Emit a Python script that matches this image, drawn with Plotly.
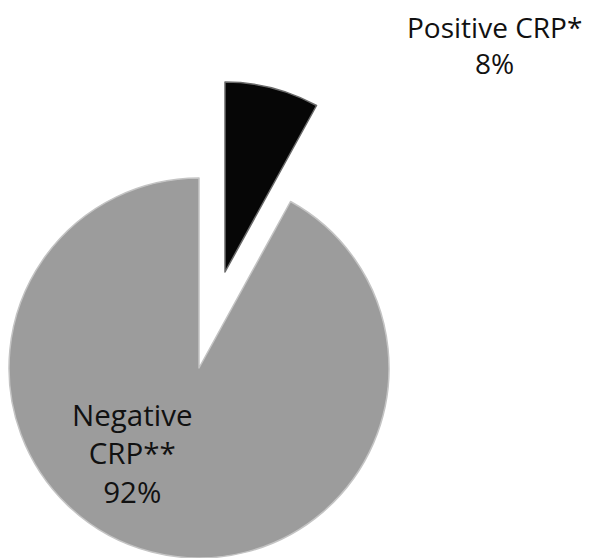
import plotly.graph_objects as go

categories = ["Positive CRP*", "Negative CRP**"]
values = [8, 92]
label_lines = [["Positive CRP*", "8%"], ["Negative", "CRP**", "92%"]]

W, H = 591, 558

def dom(cx, cy, r):
    return dict(x=[(cx - r) / W, (cx + r) / W],
                y=[max(0, (H - cy - r) / H), min(1, (H - cy + r) / H)])

fig = go.Figure()
# Negative slice (main body)
fig.add_trace(go.Pie(
    labels=categories, values=values, sort=False, direction="clockwise",
    marker=dict(colors=["rgba(0,0,0,0)", "#9c9c9c"],
                line=dict(color=["rgba(0,0,0,0)", "#c4c4c4"], width=[0, 1.5])),
    textinfo="none", hoverinfo="label+percent", showlegend=False,
    domain=dom(199, 368, 190)))
# Positive slice (exploded)
fig.add_trace(go.Pie(
    labels=categories, values=values, sort=False, direction="clockwise",
    marker=dict(colors=["#060606", "rgba(0,0,0,0)"],
                line=dict(color=["#6a6a6a", "rgba(0,0,0,0)"], width=[1.5, 0])),
    textinfo="none", hoverinfo="label+percent", showlegend=False,
    domain=dom(225, 272, 190)))

fig.add_annotation(text="<br>".join(label_lines[0]), x=494 / W, y=1 - 45 / H,
                   xref="paper", yref="paper", showarrow=False,
                   font=dict(family="Open Sans, Noto Sans, sans-serif", size=28, color="#111111"),
                   xanchor="center", yanchor="middle", align="center")
fig.add_annotation(text="<br>".join(label_lines[1]), x=132 / W, y=1 - 453 / H,
                   xref="paper", yref="paper", showarrow=False,
                   font=dict(family="Open Sans, Noto Sans, sans-serif", size=29.5, color="#111111"),
                   xanchor="center", yanchor="middle", align="center")

fig.update_layout(width=W, height=H, margin=dict(l=0, r=0, t=0, b=0),
                  paper_bgcolor="white", plot_bgcolor="white")
fig.write_html("out.html", config={"displayModeBar": False},
               post_script="document.body.style.margin='0';")
